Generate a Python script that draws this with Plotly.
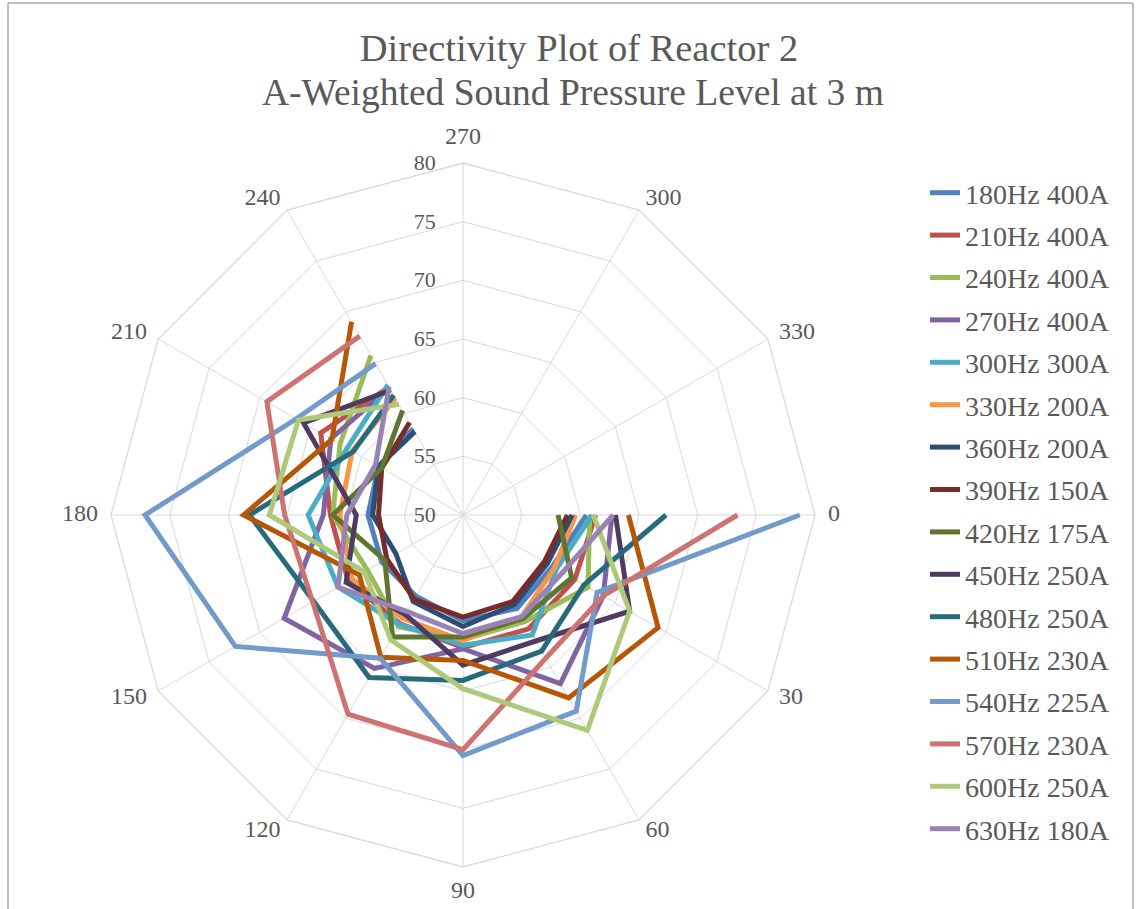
import plotly.graph_objects as go

# Measurement directions (degrees) and radial tick labels
angles = [0, 30, 60, 90, 120, 150, 180, 210, 240]
angle_ticks = [0, 30, 60, 90, 120, 150, 180, 210, 240, 270, 300, 330]
spl_ticks = [50, 55, 60, 65, 70, 75, 80]

# A-weighted SPL (dB) at 3 m for each test condition
spl_180hz_400a = [60.5, 58.8, 59.2, 59.0, 58.0, 58.0, 58.1, 58.3, 58.5]
spl_210hz_400a = [61.3, 61.0, 61.2, 61.3, 60.7, 61.3, 61.3, 64.0, 62.6]
spl_240hz_400a = [60.8, 62.3, 60.5, 60.6, 61.0, 59.4, 61.1, 62.1, 65.7]
spl_270hz_400a = [62.7, 63.8, 66.6, 61.4, 65.1, 67.6, 61.9, 63.0, 62.5]
spl_300hz_300a = [61.0, 59.2, 61.8, 61.1, 60.8, 62.3, 63.2, 61.4, 62.8]
spl_330hz_200a = [59.6, 59.0, 60.0, 60.7, 60.2, 60.9, 60.5, 60.9, 61.5]
spl_360hz_200a = [59.3, 58.3, 58.8, 59.5, 58.5, 56.6, 57.7, 58.3, 58.2]
spl_390hz_150a = [58.9, 58.0, 58.5, 58.7, 58.3, 57.5, 57.2, 58.0, 59.1]
spl_420hz_175a = [58.1, 60.7, 60.2, 60.4, 62.0, 57.7, 61.1, 58.0, 60.3]
spl_450hz_250a = [63.0, 66.4, 62.4, 62.8, 59.8, 61.5, 59.1, 65.7, 62.3]
spl_480hz_250a = [67.3, 61.9, 63.4, 64.1, 66.0, 64.7, 68.2, 60.8, 61.8]
spl_510hz_230a = [64.1, 69.2, 68.0, 62.4, 64.0, 60.2, 68.7, 62.9, 69.0]
spl_540hz_225a = [78.7, 63.2, 69.3, 70.5, 64.1, 72.4, 77.1, 66.4, 64.9]
spl_570hz_230a = [73.4, 63.8, 64.1, 70.0, 69.6, 64.8, 65.2, 69.3, 67.6]
spl_600hz_250a = [61.1, 66.4, 71.2, 64.8, 62.3, 59.7, 66.5, 66.2, 60.9]
spl_630hz_180a = [62.8, 59.8, 60.0, 60.1, 59.5, 62.3, 59.9, 58.6, 62.6]

series = [
    ("180Hz 400A", spl_180hz_400a, "#4F81BD"),
    ("210Hz 400A", spl_210hz_400a, "#C0504D"),
    ("240Hz 400A", spl_240hz_400a, "#9BBB59"),
    ("270Hz 400A", spl_270hz_400a, "#8064A2"),
    ("300Hz 300A", spl_300hz_300a, "#4BACC6"),
    ("330Hz 200A", spl_330hz_200a, "#F79646"),
    ("360Hz 200A", spl_360hz_200a, "#2C4D75"),
    ("390Hz 150A", spl_390hz_150a, "#772C2A"),
    ("420Hz 175A", spl_420hz_175a, "#5F7530"),
    ("450Hz 250A", spl_450hz_250a, "#4D3B62"),
    ("480Hz 250A", spl_480hz_250a, "#276A7C"),
    ("510Hz 230A", spl_510hz_230a, "#B65708"),
    ("540Hz 225A", spl_540hz_225a, "#729ACA"),
    ("570Hz 230A", spl_570hz_230a, "#CD7371"),
    ("600Hz 250A", spl_600hz_250a, "#AFC97A"),
    ("630Hz 180A", spl_630hz_180a, "#9983B5"),
]

W, H = 1139, 909
cx, cy, R = 463, 515, 352      # chart centre and 80 dB ring radius (px)
R_LABEL = 365                  # radius of the ring the angle labels hang from (px)
font_family = "Liberation Serif, Times New Roman, serif"
grey_text = "#595959"
grid = "#D9D9D9"

angle_labels = [str(a) for a in angle_ticks]
# each label sits outward of its spoke end
label_positions = ["middle right", "middle right", "middle right", "bottom center",
                   "middle left", "middle left", "middle left", "middle left",
                   "middle left", "top center", "middle right", "middle right"]


def domain_for(radius):
    return dict(x=[(cx - radius) / W, (cx + radius) / W],
                y=[(H - cy - radius) / H, (H - cy + radius) / H])


fig = go.Figure()
for i, (name, vals, color) in enumerate(series):
    fig.add_trace(go.Scatterpolar(
        r=vals, theta=[str(a) for a in angles], mode="lines", name=name,
        legendgroup=f"g{i}",
        line=dict(color=color, width=5),
        hoverinfo="name+r+theta",
    ))

# angle labels, placed on a slightly larger hidden polar frame
fig.add_trace(go.Scatterpolar(
    subplot="polar2",
    r=[1] * len(angle_labels), theta=angle_labels, text=angle_labels,
    mode="text", textposition=label_positions, cliponaxis=False,
    textfont=dict(family=font_family, size=24, color=grey_text),
    showlegend=False, hoverinfo="skip",
))

hidden_axis = dict(visible=False, showgrid=False, showline=False,
                   showticklabels=False, ticks="")

fig.update_layout(
    width=W, height=H,
    margin=dict(l=0, r=0, t=0, b=0),
    paper_bgcolor="white",
    plot_bgcolor="white",
    font=dict(family=font_family, color=grey_text, size=24),
    title=dict(
        text="Directivity Plot of Reactor 2",
        x=579 / W, xanchor="center", y=1 - 48 / H, yanchor="middle",
        font=dict(family=font_family, size=38.5, color=grey_text),
    ),
    annotations=[dict(
        text="A-Weighted Sound Pressure Level at 3 m",
        xref="paper", yref="paper", x=572.5 / W, y=1 - 92 / H,
        xanchor="center", yanchor="middle", showarrow=False,
        font=dict(family=font_family, size=37.5, color=grey_text),
    )],
    polar=dict(
        domain=domain_for(R),
        bgcolor="white",
        gridshape="linear",
        angularaxis=dict(
            type="category", categoryorder="array", categoryarray=angle_labels,
            direction="clockwise", rotation=0,
            showline=True, linecolor=grid, linewidth=1.3,
            gridcolor=grid, gridwidth=1.3,
            ticks="", showticklabels=False,
        ),
        radialaxis=dict(
            range=[50, 80], tickmode="array", tickvals=spl_ticks,
            ticktext=[str(v) for v in spl_ticks],
            angle=90, tickangle=90, side="counterclockwise", showline=False,
            gridcolor=grid, gridwidth=1.3,
            ticks="outside", ticklen=19, tickcolor="rgba(0,0,0,0)",
            tickfont=dict(size=22, color=grey_text),
        ),
    ),
    polar2=dict(
        domain=domain_for(R_LABEL),
        bgcolor="rgba(0,0,0,0)",
        gridshape="linear",
        angularaxis=dict(type="category", categoryorder="array",
                         categoryarray=angle_labels, direction="clockwise",
                         rotation=0, **hidden_axis),
        radialaxis=dict(range=[0, 1], **hidden_axis),
    ),
    legend=dict(
        x=925 / W, y=1 - 168 / H, xanchor="left", yanchor="top",
        font=dict(size=28, color=grey_text, family=font_family),
        tracegroupgap=3, bgcolor="rgba(0,0,0,0)",
    ),
    shapes=[dict(type="rect", xref="paper", yref="paper",
                 x0=8 / W, x1=1133 / W, y0=-0.01, y1=1 - 3 / H,
                 line=dict(color="#7F7F7F", width=1), fillcolor="rgba(0,0,0,0)",
                 layer="below")],
)

fig.write_html("out.html")
